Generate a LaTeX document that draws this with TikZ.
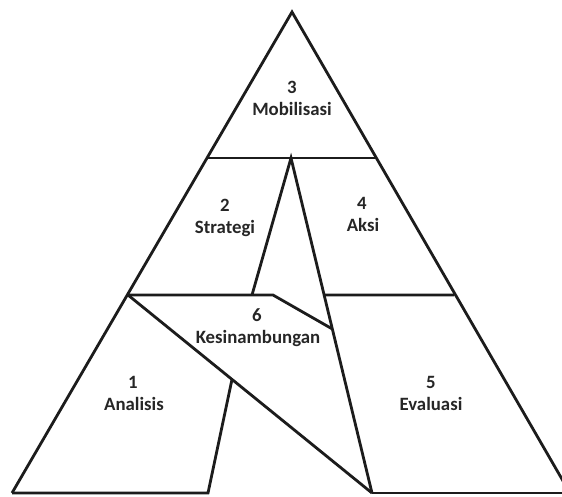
\documentclass[tikz,border=0pt]{standalone}
\usepackage{fontspec}
\setmainfont{Carlito}
\usetikzlibrary{calc}
\definecolor{ink}{HTML}{1C1C1C}
\definecolor{txt}{HTML}{262626}
\begin{document}
\begin{tikzpicture}[x=1pt,y=-1pt,
  edge/.style={draw=ink,line width=2.8pt,line join=miter,line cap=butt},
  lbl/.style={anchor=base,inner sep=0pt,text=txt,font=\bfseries\fontsize{18.8}{22}\selectfont}]
\useasboundingbox (0,0) rectangle (562,496);
\clip (0,0) rectangle (562,496);
% key points
\coordinate (A) at (292,12);
\coordinate (BL) at (12,493);
\coordinate (BR) at (570,493);
\coordinate (L1) at (208,158);
\coordinate (R1) at (376,158);
\coordinate (L2) at (128,295);
\coordinate (R2) at (454,295);
\coordinate (T) at (291,158);
\coordinate (S) at (252,295);
\coordinate (F) at (372,493);
\coordinate (K) at (273,295);
\coordinate (K2) at ($(T)!0.5104!(F)$);
\coordinate (H) at ($(T)!0.4090!(F)$);
\coordinate (P) at ($(L2)!0.4262!(F)$);
\coordinate (Q) at (208,493);
% outline
\draw[edge] (BL) -- (A) -- (BR);
\draw[edge] (BL) -- (Q) -- (P);
\draw[edge] (F) -- (BR);
% inner lines
\draw[edge] (L1) -- (R1);
\draw[edge] (S) -- (T) -- (F);
\draw[edge] (L2) -- (K) -- (K2);
\draw[edge] (L2) -- (F);
\draw[edge] (H) -- (R2);
% labels
\node[lbl] (n3) at (292,93) {3};
\node[lbl] (t3) at (292,115) {Mobilisasi};
\node[lbl] (n2) at (225,211) {2};
\node[lbl] (t2) at (225,233) {Strategi};
\node[lbl] (n4) at (362,209) {4};
\node[lbl] (t4) at (363,231) {Aksi};
\node[lbl] (n6) at (257,321) {6};
\node[lbl] (t6) at (258,343) {Kesinambungan};
\node[lbl] (n1) at (133,388) {1};
\node[lbl] (t1) at (134,410) {Analisis};
\node[lbl] (n5) at (431,388) {5};
\node[lbl] (t5) at (431,410) {Evaluasi};
\end{tikzpicture}
\end{document}
